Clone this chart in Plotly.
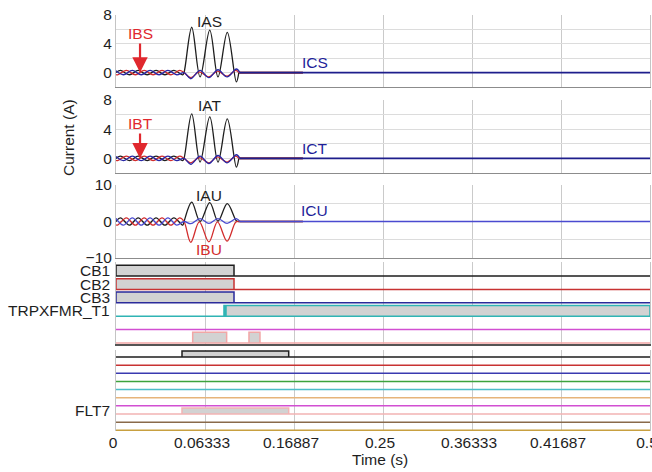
import plotly.graph_objects as go

# ---------------- data ----------------
t_ticks = [0, 0.08333, 0.16667, 0.25, 0.33333, 0.41667, 0.5]
t_tick_labels = ['0', '0.06333', '0.16887', '0.25', '0.36333', '0.41687', '0.5']

# sample times (s) of read-off points for each phase (pre-fault + fault)
tA = [0.0, 0.0042, 0.0125, 0.0208, 0.0292, 0.0375, 0.0458, 0.0542, 0.0625,
      0.0637, 0.0709, 0.0787, 0.0878, 0.0955, 0.1042, 0.1127, 0.1150]
tB = [0.0, 0.0014, 0.0097, 0.0181, 0.0264, 0.0347, 0.0431, 0.0514, 0.0597,
      0.0637, 0.0700, 0.0780, 0.0870, 0.0950, 0.1040, 0.1120, 0.1150]
tC = [0.0, 0.0069, 0.0153, 0.0236, 0.0319, 0.0403, 0.0486, 0.0569,
      0.0637, 0.0700, 0.0787, 0.0870, 0.0955, 0.1040, 0.1127, 0.1160]

# post-fault (zero current) spans
t_post_AB = [0.1150, 0.1750]
t_post_C = [0.1160, 0.5]
I_post = [0.0, 0.0]

# currents (A)
IAS = [0.0, 0.3, -0.3, 0.3, -0.3, 0.3, -0.3, 0.3, -0.3, 0.0, 6.3, -0.6, 5.9, -0.6, 5.6, -1.3, 0.0]
IBS = [-0.26, -0.3, 0.3, -0.3, 0.3, -0.3, 0.3, -0.3, 0.3, 0.0, -0.7, 0.1, -0.6, 0.2, -0.5, 0.3, 0.0]
ICS = [0.26, -0.3, 0.3, -0.3, 0.3, -0.3, 0.3, -0.3, 0.0, -0.85, 0.3, -0.7, 0.4, -0.6, 0.5, 0.0]

IAT = [0.0, 0.3, -0.3, 0.3, -0.3, 0.3, -0.3, 0.3, -0.3, 0.0, 6.1, -0.5, 5.7, -0.5, 5.4, -1.2, 0.0]
IBT = [-0.26, -0.3, 0.3, -0.3, 0.3, -0.3, 0.3, -0.3, 0.3, 0.0, -0.6, 0.1, -0.6, 0.2, -0.5, 0.3, 0.0]
ICT = [0.26, -0.3, 0.3, -0.3, 0.3, -0.3, 0.3, -0.3, 0.0, -0.8, 0.3, -0.7, 0.4, -0.6, 0.5, 0.0]

IAU = [0.0, 1.0, -1.0, 1.0, -1.0, 1.0, -1.0, 1.0, -1.0, 0.0, 5.3, 0.0, 5.2, 0.1, 4.9, 0.2, 0.0]
IBU = [-0.87, -1.0, 1.0, -1.0, 1.0, -1.0, 1.0, -1.0, 1.0, 0.0, -5.7, -0.1, -5.6, -0.1, -5.4, -0.2, 0.0]
ICU = [0.87, -1.0, 1.0, -1.0, 1.0, -1.0, 1.0, -1.0, 0.0, -0.6, 0.8, -0.5, 0.8, -0.5, 0.8, 0.0]

# digital channels: names, colours, transition times (s); a leading 0 means "starts high"
dig1_names = ['CB1', 'CB2', 'CB3', 'TRPXFMR_T1', '', '']
dig1_colors = ['#1e1e1e', '#c83232', '#2a2a9a', '#30b4b4', '#d24fd2', '#f2a6a6']
dig1_edges = [[0, 0.1105], [0, 0.1105], [0, 0.1105], [0.1011, 0.1024, 0.1030], [],
              [0.0718, 0.1036, 0.1245, 0.1348]]

dig2_names = ['', '', '', '', '', '', '', 'FLT7', '', '']
dig2_colors = ['#1e1e1e', '#c83232', '#3a3ab0', '#3da33d', '#4cbcc8', '#e6b47a',
               '#d24fd2', '#f2b4b4', '#8a6a4a', '#c8a040']
dig2_edges = [[0.0618, 0.1617], [], [], [], [], [], [], [0.0618, 0.1617], [], []]

# ---------------- figure ----------------
FONT = 'Liberation Sans, Arial, sans-serif'
BLACK, RED, BLUE, BLUE3 = '#1e1e1e', '#d22c2c', '#2626a6', '#4a4ad0'
NAVY = '#1e1e8c'
fig = go.Figure()

def cur(x, y, color, ax, w=1.3, shape='spline'):
    fig.add_trace(go.Scatter(x=x, y=y, mode='lines', xaxis=ax[0], yaxis=ax[1],
                             line=dict(color=color, width=w, shape=shape),
                             hoverinfo='skip', showlegend=False))

for ax, (a, b, c), cc, post_col, pw in ((('x', 'y'), (IAS, IBS, ICS), BLUE, NAVY, 1.8),
                                        (('x2', 'y2'), (IAT, IBT, ICT), BLUE, NAVY, 1.8),
                                        (('x3', 'y3'), (IAU, IBU, ICU), BLUE3, BLUE3, 1.3)):
    cur(t_post_AB, I_post, BLACK, ax, pw, 'linear')
    cur(t_post_AB, I_post, RED, ax, pw, 'linear')
    cur(t_post_C, I_post, post_col, ax, pw, 'linear')
    cur(tA, a, BLACK, ax)
    cur(tB, b, RED, ax)
    cur(tC, c, cc, ax)

def digital(names, colors, edges, high, ax, ayref):
    n = len(names)
    for k in range(n):
        base = n - 1 - k
        top = base + high
        xs, ys = [0.0], [base]
        lvl = base
        for e in edges[k]:
            xs.append(e); ys.append(lvl)
            lvl = top if lvl == base else base
            xs.append(e); ys.append(lvl)
        xs.append(0.5); ys.append(lvl)
        if lvl != base:
            xs.append(0.5); ys.append(base)
        xs.append(0.0); ys.append(base)
        fig.add_trace(go.Scatter(x=xs, y=ys, mode='lines', xaxis=ax[0], yaxis=ax[1],
                                 fill='toself', fillcolor='#d2d2d2',
                                 line=dict(color=colors[k], width=1.5),
                                 hoverinfo='skip', showlegend=False))
        if names[k]:
            fig.add_annotation(text=names[k], xref='paper', x=0, xshift=-5, xanchor='right',
                               yref=ayref, y=base + high / 2, yanchor='middle', showarrow=False,
                               borderpad=0,
                               font=dict(size=15.5, color='#1e1e1e', family=FONT))

digital(dig1_names, dig1_colors, dig1_edges, 0.8, ('x4', 'y4'), 'y4')
digital(dig2_names, dig2_colors, dig2_edges, 0.74, ('x5', 'y5'), 'y5')

# axes
GRID = '#cacaca'
HGRID = '#dcdcdc'
xbase = dict(range=[0, 0.5], tickvals=t_ticks, ticktext=t_tick_labels, showgrid=True,
             gridcolor=GRID, gridwidth=1, zeroline=False, ticks='', ticklabeloverflow='allow',
             ticklabelshift=-3, automargin=False,
             tickfont=dict(size=15.5, color='#1e1e1e', family=FONT))
doms = [[0.8269, 1.0], [0.6202, 0.7957], [0.4159, 0.5913], [0.2091, 0.4063], [0.0, 0.1947]]
layout = {}
for i in range(5):
    xn = 'xaxis' if i == 0 else 'xaxis%d' % (i + 1)
    yn = 'yaxis' if i == 0 else 'yaxis%d' % (i + 1)
    yid = 'y' if i == 0 else 'y%d' % (i + 1)
    xd = dict(xbase, anchor=yid, showticklabels=(i == 4))
    if i > 0:
        xd['matches'] = 'x'
    if i < 3:
        xd.update(showline=True, linecolor='#8c8c8c', linewidth=1.2)
    elif i == 3:
        xd.update(showline=True, linecolor='#555555', linewidth=1.6)
    else:
        xd.update(showline=False)
    layout[xn] = xd
    yd = dict(domain=doms[i], anchor='x' if i == 0 else 'x%d' % (i + 1), zeroline=False,
              showline=True, linecolor='#c4c4c4', linewidth=1, mirror=True, ticks='',
              automargin=False,
              tickfont=dict(size=15.5, color='#1e1e1e', family=FONT), fixedrange=True)
    if i < 2:
        yd.update(range=[-2, 8], tickvals=[-2, 0, 2, 4, 6, 8], ticktext=['', '0', '', '4', '', '8'],
                  showgrid=True, gridcolor=HGRID)
    elif i == 2:
        yd.update(range=[-10, 10], tickvals=[-10, -5, 0, 5, 10],
                  ticktext=['\u221210', '', '0', '', '10'], showgrid=True, gridcolor=HGRID)
    elif i == 3:
        yd.update(range=[-0.075, 6.045], showgrid=False, showticklabels=False)
    else:
        yd.update(range=[-0.086, 9.86], showgrid=False, showticklabels=False)
    layout[yn] = yd

fig.update_layout(**layout)

def lab(text, x, y, yref, color, size=15.5):
    fig.add_annotation(text=text, x=x, y=y, xref='x', yref=yref, showarrow=False,
                       font=dict(size=size, color=color, family=FONT))

lab('IAS', 0.0871, 7.05, 'y', BLACK)
lab('ICS', 0.186, 1.34, 'y', '#1f1f9a')
lab('IAT', 0.0871, 7.3, 'y2', BLACK)
lab('ICT', 0.186, 1.33, 'y2', '#1f1f9a')
lab('IAU', 0.0871, 7.1, 'y3', BLACK)
lab('IBU', 0.0871, -7.7, 'y3', '#d22c2c')
lab('ICU', 0.186, 3.0, 'y3', '#1f1f9a')

for yref, ay in (('y', -39), ('y2', -35)):
    fig.add_annotation(text='IBS' if yref == 'y' else 'IBT', x=0.0225, y=0, xref='x', yref=yref,
                       ax=0, ay=ay, showarrow=True, arrowhead=2, arrowsize=1.4, arrowwidth=2.2,
                       arrowcolor='#e0282e', font=dict(size=15.5, color='#e0282e', family=FONT))

fig.add_annotation(text='Current (A)', xref='paper', yref='paper', x=-0.0899, y=0.7067,
                   textangle=-90, showarrow=False, xanchor='center', yanchor='middle',
                   font=dict(size=15.5, color='#1e1e1e', family=FONT))
fig.add_annotation(text='Time (s)', xref='paper', yref='paper', x=0.4944, y=-0.0697,
                   showarrow=False, xanchor='center', yanchor='middle',
                   font=dict(size=15.5, color='#1e1e1e', family=FONT))

fig.update_layout(width=652, height=472, margin=dict(l=116, r=2, t=15, b=41, autoexpand=False),
                  paper_bgcolor='white', plot_bgcolor='white',
                  font=dict(family=FONT, color='#1e1e1e'), showlegend=False)

fig.write_html('out.html')
